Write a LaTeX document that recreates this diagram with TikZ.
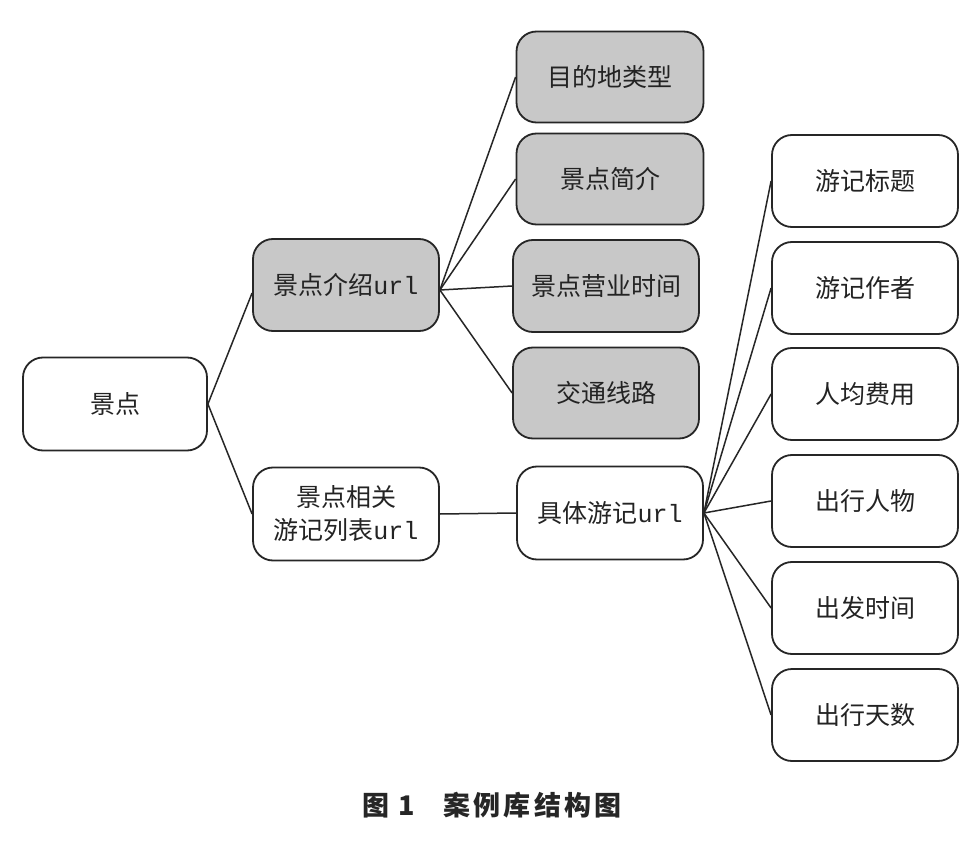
\documentclass[tikz,border=0pt]{standalone}
\usepackage{fontspec}
\newfontfamily\cjk{Noto Sans CJK SC}
\newfontfamily\latn{Liberation Mono}
\newcommand{\urlt}{{\latn url}}
\definecolor{boxgray}{RGB}{200,200,200}
\definecolor{txt}{RGB}{35,35,35}
\begin{document}
\begin{tikzpicture}[x=1pt,y=-1pt,
  box/.style={draw=black!85,line width=1.8pt,rounded corners=20pt,minimum width=186pt,minimum height=92pt,inner sep=0pt,align=center,font=\cjk\fontsize{25}{33}\selectfont,text=txt},
  gbox/.style={box,fill=boxgray},
  wbox/.style={box,fill=white},
  link/.style={draw=black!85,line width=1.5pt}]
\useasboundingbox (0,0) rectangle (978,853);
\fill[white] (0,0) rectangle (978,853);
% nodes
\node[wbox,minimum width=184pt,minimum height=93pt] (jd) at (115,404) {景点};
\node[gbox] (js) at (346,285) {景点介绍\urlt};
\node[wbox,minimum height=93pt] (jx) at (346,514) {景点相关\\游记列表\urlt};
\node[gbox,minimum width=187pt,minimum height=91pt] (t1) at (610,77) {目的地类型};
\node[gbox,minimum width=187pt,minimum height=91pt] (t2) at (610,179) {景点简介};
\node[gbox] (t3) at (606,286) {景点营业时间};
\node[gbox,minimum height=91pt] (t4) at (606,393) {交通线路};
\node[wbox,minimum height=93pt] (jt) at (610,513) {具体游记\urlt};
\node[wbox] (r1) at (865,181) {游记标题};
\node[wbox] (r2) at (865,288) {游记作者};
\node[wbox] (r3) at (865,394) {人均费用};
\node[wbox] (r4) at (865,501) {出行人物};
\node[wbox] (r5) at (865,608) {出发时间};
\node[wbox] (r6) at (865,715) {出行天数};
% connectors
\draw[link] (jd.east) -- ([yshift=-8pt]js.west);
\draw[link] (jd.east) -- (jx.west);
\foreach \t in {t1,t2,t3,t4} \draw[link] ([yshift=-5pt]js.east) -- (\t.west);
\draw[link] (jx.east) -- (jt.west);
\foreach \r in {r1,r2,r3,r4,r5,r6} \draw[link] (jt.east) -- (\r.west);
% caption
\node[font=\cjk\bfseries\fontsize{27}{32}\selectfont\addfontfeature{LetterSpace=12},text=black!85] (cap) at (492,805) {图 1\hspace{28pt}案例库结构图};
\end{tikzpicture}
\end{document}
